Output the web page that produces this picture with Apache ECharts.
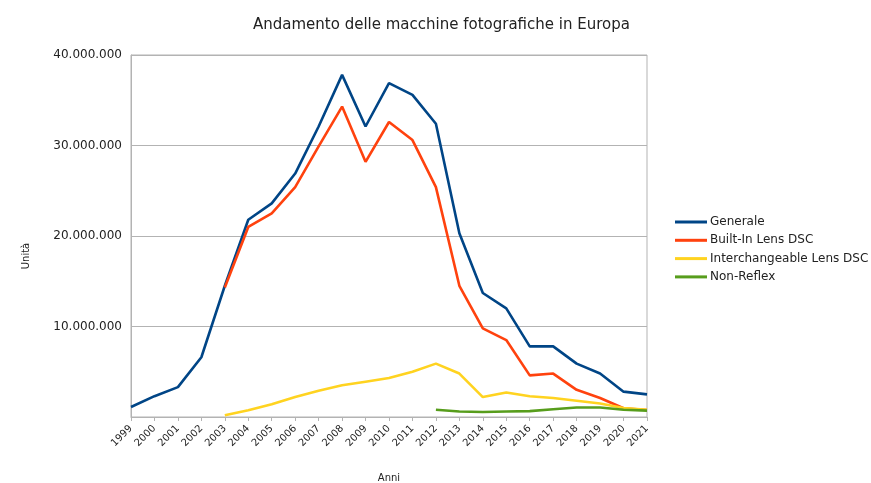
<!DOCTYPE html>
<html>
<head>
<meta charset="utf-8">
<script src="https://cdn.jsdelivr.net/npm/echarts@6/dist/echarts.min.js"></script>
<style>
html,body{margin:0;padding:0;background:#fff;}
#chart{width:871px;height:483px;}
</style>
</head>
<body>
<div id="chart"></div>
<script>
const years = ['1999','2000','2001','2002','2003','2004','2005','2006','2007','2008','2009','2010','2011','2012','2013','2014','2015','2016','2017','2018','2019','2020','2021'];
const generale = [1100000, 2300000, 3300000, 6600000, 14500000, 21800000, 23600000, 26900000, 32100000, 37800000, 32100000, 36900000, 35600000, 32400000, 20300000, 13700000, 12000000, 7800000, 7800000, 5900000, 4800000, 2800000, 2500000];
const builtIn = [null, null, null, null, 14300000, 21000000, 22500000, 25400000, 29900000, 34300000, 28200000, 32600000, 30600000, 25400000, 14500000, 9800000, 8500000, 4600000, 4800000, 3000000, 2100000, 960000, 770000];
const interchangeable = [null, null, null, null, 200000, 740000, 1400000, 2200000, 2900000, 3500000, 3900000, 4300000, 5000000, 5900000, 4800000, 2200000, 2700000, 2300000, 2100000, 1800000, 1500000, 1000000, 800000];
const nonReflex = [null, null, null, null, null, null, null, null, null, null, null, null, null, 800000, 600000, 550000, 600000, 650000, 850000, 1050000, 1050000, 800000, 700000];
const yTicks = [0, 10000000, 20000000, 30000000, 40000000];
const seriesNames = ['Generale', 'Built-In Lens DSC', 'Interchangeable Lens DSC', 'Non-Reflex'];

function fmt(v){
  if (v === 0) return '';
  return String(v).replace(/\B(?=(\d{3})+(?!\d))/g, '.');
}

const FONT = 'DejaVu Sans';
const chart = echarts.init(document.getElementById('chart'), null, {renderer:'canvas'});
const mk = (name, data, color) => ({
  name, type:'line', data, symbol:'none', connectNulls:false,
  lineStyle:{color, width:2.6}, itemStyle:{color}
});
chart.setOption({
  backgroundColor:'#fff',
  animation:false,
  title:{
    text:'Andamento delle macchine fotografiche in Europa',
    left:253, top:18, padding:0,
    textStyle:{fontFamily:FONT, fontSize:15, fontWeight:'normal', color:'#222'}
  },
  legend:{
    orient:'vertical', left:675, top:215, padding:0,
    itemWidth:32, itemHeight:3, itemGap:4.3,
    icon:'rect',
    textStyle:{fontFamily:FONT, fontSize:12, lineHeight:14, color:'#222', padding:[0,0,0,-2]},
    data:seriesNames
  },
  grid:{left:131, right:224, top:55, bottom:66, show:true, borderColor:'#b3b3b3', borderWidth:1, outerBoundsMode:'none'},
  xAxis:{
    type:'category', data:years, boundaryGap:false,
    name:'Anni', nameLocation:'middle', nameGap:56,
    nameTextStyle:{fontFamily:FONT, fontSize:10, color:'#222'},
    axisLine:{lineStyle:{color:'#b3b3b3'}},
    axisTick:{show:true, length:4, lineStyle:{color:'#b3b3b3'}},
    axisLabel:{rotate:45, fontFamily:FONT, fontSize:10, color:'#222', margin:10, interval:0},
    splitLine:{show:false}
  },
  yAxis:{
    type:'value', min:yTicks[0], max:yTicks[yTicks.length-1], interval:10000000,
    name:'Unità', nameLocation:'middle', nameGap:100,
    nameTextStyle:{fontFamily:FONT, fontSize:10, color:'#222', padding:[0,40,0,0]},
    axisLine:{show:true, lineStyle:{color:'#b3b3b3'}},
    axisTick:{show:false},
    axisLabel:{formatter:fmt, fontFamily:FONT, fontSize:12, color:'#222', margin:9},
    splitLine:{lineStyle:{color:'#b3b3b3', width:1}}
  },
  series:[
    mk(seriesNames[0], generale, '#004586'),
    mk(seriesNames[1], builtIn, '#ff420e'),
    mk(seriesNames[2], interchangeable, '#ffd320'),
    mk(seriesNames[3], nonReflex, '#579d1c')
  ]
});
</script>
</body>
</html>
